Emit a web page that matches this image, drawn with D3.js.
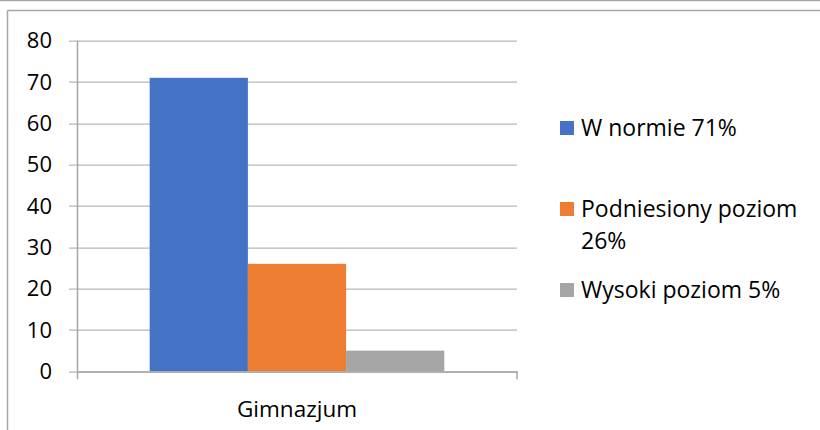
<!DOCTYPE html>
<html>
<head>
<meta charset="utf-8">
<script src="https://cdn.jsdelivr.net/npm/d3@7"></script>
<style>
  body { margin: 0; background: #fff; }
  svg text { font-family: "Open Sans", "Noto Sans", sans-serif; fill: #000; }
</style>
</head>
<body>
<div id="chart"></div>
<script>
// data
const categories = ["Gimnazjum"];
const seriesNames = ["W normie 71%", "Podniesiony poziom 26%", "Wysoki poziom 5%"];
const seriesValues = [71, 26, 5];
const seriesColors = ["#4472c4", "#ed7d31", "#a5a5a5"];
const yTicks = [0, 10, 20, 30, 40, 50, 60, 70, 80];

const W = 820, H = 430;
const margin = {top: 40.6, left: 77, right: 303, bottom: 58.7};
const width = W - margin.left - margin.right;
const height = H - margin.top - margin.bottom;

const svg = d3.select("#chart").append("svg")
    .attr("width", W)
    .attr("height", H);

// chart frame (clipped border)
svg.append("line").attr("x1", 0).attr("x2", W).attr("y1", 0.5).attr("y2", 0.5)
    .attr("stroke", "#a6a6a6").attr("stroke-width", 1.5);
svg.append("line").attr("x1", 7.5).attr("x2", W).attr("y1", 10.5).attr("y2", 10.5)
    .attr("stroke", "#a6a6a6").attr("stroke-width", 1.5);
svg.append("line").attr("x1", 7.5).attr("x2", 7.5).attr("y1", 10.5).attr("y2", H)
    .attr("stroke", "#a6a6a6").attr("stroke-width", 1.5);

const g = svg.append("g")
    .attr("transform", "translate(" + margin.left + "," + margin.top + ")");

const y = d3.scaleLinear().domain([0, 80]).range([height, 0]);
const x0 = d3.scaleBand().domain(categories).range([0, width]);
const x1 = d3.scaleBand().domain(seriesNames)
    .range([0, x0.bandwidth()]).paddingOuter(0.74).paddingInner(0);

// gridlines + ticks
g.selectAll(".grid")
    .data(yTicks)
    .enter().append("line")
    .attr("class", "grid")
    .attr("x1", -8).attr("x2", width)
    .attr("y1", d => Math.round(y(d)) + 0.5)
    .attr("y2", d => Math.round(y(d)) + 0.5)
    .attr("stroke", "#a6a6a6").attr("stroke-width", 1);

// bars
g.selectAll(".bar")
    .data(seriesValues)
    .enter().append("rect")
    .attr("class", "bar")
    .attr("x", (d, i) => x0(categories[0]) + x1(seriesNames[i]))
    .attr("y", d => y(d))
    .attr("width", x1.bandwidth())
    .attr("height", d => height - y(d))
    .attr("fill", (d, i) => seriesColors[i]);

// y axis line
g.append("line")
    .attr("x1", 0.5).attr("x2", 0.5)
    .attr("y1", 0).attr("y2", height + 8)
    .attr("stroke", "#a6a6a6").attr("stroke-width", 1.5);

// x axis line + right tick
g.append("line")
    .attr("x1", 0).attr("x2", width + 0.5)
    .attr("y1", Math.round(height) + 0.5).attr("y2", Math.round(height) + 0.5)
    .attr("stroke", "#a6a6a6").attr("stroke-width", 1.5);
g.append("line")
    .attr("x1", width).attr("x2", width)
    .attr("y1", height).attr("y2", height + 8)
    .attr("stroke", "#a6a6a6").attr("stroke-width", 1.5);

// y labels
g.selectAll(".ylab")
    .data(yTicks)
    .enter().append("text")
    .attr("class", "ylab")
    .attr("x", -25)
    .attr("y", d => y(d))
    .attr("dy", "0.35em")
    .attr("text-anchor", "end")
    .style("font-size", "22px")
    .text(d => d);

// category label
g.selectAll(".xlab")
    .data(categories)
    .enter().append("text")
    .attr("class", "xlab")
    .attr("x", d => x0(d) + x0.bandwidth() / 2)
    .attr("y", height + 38)
    .attr("dy", "0.35em")
    .attr("text-anchor", "middle")
    .style("font-size", "22.5px")
    .text(d => d);

// legend
const legendRows = [
    {lines: ["W normie 71%"], y: 128},
    {lines: ["Podniesiony poziom", "26%"], y: 209},
    {lines: ["Wysoki poziom 5%"], y: 290}
];
const legend = svg.append("g");
legendRows.forEach((r, i) => {
    legend.append("rect")
        .attr("x", 560).attr("y", r.y - 7)
        .attr("width", 14).attr("height", 14)
        .attr("fill", seriesColors[i]);
    r.lines.forEach((t, j) => {
        legend.append("text")
            .attr("x", 581)
            .attr("y", r.y + j * 32)
            .attr("dy", "0.35em")
            .style("font-size", "23px")
            .text(t);
    });
});
</script>
</body>
</html>
